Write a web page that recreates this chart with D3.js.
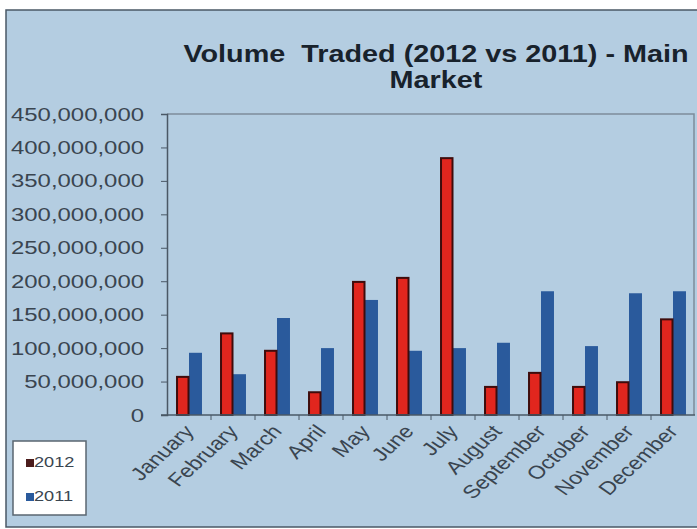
<!DOCTYPE html>
<html>
<head>
<meta charset="utf-8">
<script src="https://cdn.jsdelivr.net/npm/d3@7/dist/d3.min.js"></script>
<style>
  html, body { margin: 0; padding: 0; background: #ffffff; }
  svg { display: block; font-family: Arial, "Liberation Sans", sans-serif; }
  .title text { white-space: pre; }
</style>
</head>
<body>
<svg id="chart" width="697" height="529"></svg>
<script>
// Monthly traded volume, main market
const months = ["January", "February", "March", "April", "May", "June",
                "July", "August", "September", "October", "November", "December"];
const seriesNames = ["2012", "2011"];
const volume2012 = [57000000, 122000000, 96000000, 34000000, 199000000, 205000000,
                    384000000, 42000000, 63000000, 42000000, 49000000, 143000000];
const volume2011 = [93000000, 61000000, 145000000, 100000000, 172000000, 96000000,
                    100000000, 108000000, 185000000, 103000000, 182000000, 185000000];
const yTicks = [0, 50000000, 100000000, 150000000, 200000000, 250000000,
                300000000, 350000000, 400000000, 450000000];
const titleLines = ["Volume  Traded (2012 vs 2011) - Main", "Market"];

const rows = months.map((m, i) => ({ month: m, values: [volume2012[i], volume2011[i]] }));

const colors = {
  bg: "#b4cde1",
  frame: "#4a5866",
  fill2012: "#e1261e",
  stroke2012: "#3e0c0c",
  fill2011: "#2a5a9c",
  legend2012: "#4b1c1c",
  text: "#3a4550",
  title: "#18222c"
};

const svg = d3.select("#chart");
const W = 697, H = 529;
const plot = { left: 167, right: 695, top: 114, bottom: 415 };

// chart area
svg.append("rect")
  .attr("x", 6).attr("y", 10)
  .attr("width", W - 6 + 2).attr("height", H - 10 - 2)
  .attr("fill", colors.bg)
  .attr("stroke", colors.frame).attr("stroke-width", 1.5);

// title
const title = svg.append("g").attr("class", "title").attr("fill", colors.title)
  .attr("font-weight", "bold").attr("font-size", 24);
titleLines.forEach((t, i) => {
  title.append("text")
    .attr("transform", `translate(436, ${62 + i * 26}) scale(1.2, 1)`)
    .attr("text-anchor", "middle")
    .text(t);
});

// scales
const x = d3.scaleBand().domain(months).range([plot.left, plot.right]).padding(0);
const xs = d3.scaleBand().domain(seriesNames)
  .range([x.bandwidth() * 0.205, x.bandwidth() * 0.795]).padding(0);
const y = d3.scaleLinear().domain([0, 450000000]).range([plot.bottom, plot.top]);

// plot frame (top and right edges)
svg.append("path")
  .attr("d", `M${plot.left},${plot.top}H${plot.right - 1}V${plot.bottom}`)
  .attr("fill", "none").attr("stroke", "#7d8c9a").attr("stroke-width", 1.5);

// bars
const groups = svg.append("g").selectAll("g").data(rows).join("g")
  .attr("transform", d => `translate(${x(d.month)},0)`);

groups.append("rect")
  .attr("x", xs("2011"))
  .attr("width", xs.bandwidth())
  .attr("y", d => y(d.values[1]))
  .attr("height", d => y(0) - y(d.values[1]))
  .attr("fill", colors.fill2011);

groups.append("rect")
  .attr("x", xs("2012") + 1)
  .attr("width", xs.bandwidth() - 1.5)
  .attr("y", d => y(d.values[0]))
  .attr("height", d => y(0) - y(d.values[0]))
  .attr("fill", colors.fill2012)
  .attr("stroke", colors.stroke2012).attr("stroke-width", 2);

// y axis
const fmt = d3.format(",");
const yAxis = svg.append("g")
  .attr("transform", `translate(${plot.left},0)`)
  .call(d3.axisLeft(y).tickValues(yTicks).tickFormat(fmt).tickSize(6).tickPadding(0));
yAxis.select(".domain").attr("stroke", colors.frame).attr("stroke-width", 1.5);
yAxis.selectAll(".tick line").attr("stroke", colors.frame);
yAxis.selectAll(".tick text")
  .attr("x", null).attr("dy", null)
  .attr("transform", "translate(-23, 6) scale(1.33, 1)")
  .attr("font-size", 18)
  .attr("fill", colors.text)
  .attr("text-anchor", "end");

// x axis, ticks at category boundaries
const xAxis = svg.append("g").attr("transform", `translate(0,${plot.bottom})`);
xAxis.append("line")
  .attr("x1", plot.left - 6).attr("x2", plot.right)
  .attr("stroke", colors.frame).attr("stroke-width", 1.5);
xAxis.selectAll("line.tk").data(months.slice(1)).join("line")
  .attr("class", "tk")
  .attr("x1", d => x(d)).attr("x2", d => x(d))
  .attr("y1", 0).attr("y2", 5)
  .attr("stroke", colors.frame);
xAxis.selectAll("text").data(months).join("text")
  .attr("transform", d => `translate(${x(d) + x.bandwidth() / 2 + 6}, 17) scale(1.25, 1) rotate(-49)`)
  .attr("text-anchor", "end")
  .attr("font-size", 18.5)
  .attr("fill", colors.text)
  .text(d => d);

// legend
const legend = svg.append("g");
legend.append("rect")
  .attr("x", 13).attr("y", 441).attr("width", 73).attr("height", 74)
  .attr("fill", "#ffffff").attr("stroke", "#5a6670").attr("stroke-width", 1.5);
const legendItems = [
  { name: seriesNames[0], color: colors.legend2012, cy: 462 },
  { name: seriesNames[1], color: colors.fill2011, cy: 496 }
];
const li = legend.selectAll("g.item").data(legendItems).join("g")
  .attr("class", "item");
li.append("rect")
  .attr("x", 26).attr("y", d => d.cy - 3).attr("width", 8).attr("height", 8)
  .attr("fill", d => d.color);
li.append("text")
  .attr("transform", d => `translate(34, ${d.cy + 5}) scale(1.3, 1)`)
  .attr("font-size", 14)
  .attr("fill", colors.text)
  .text(d => d.name);
</script>
</body>
</html>
